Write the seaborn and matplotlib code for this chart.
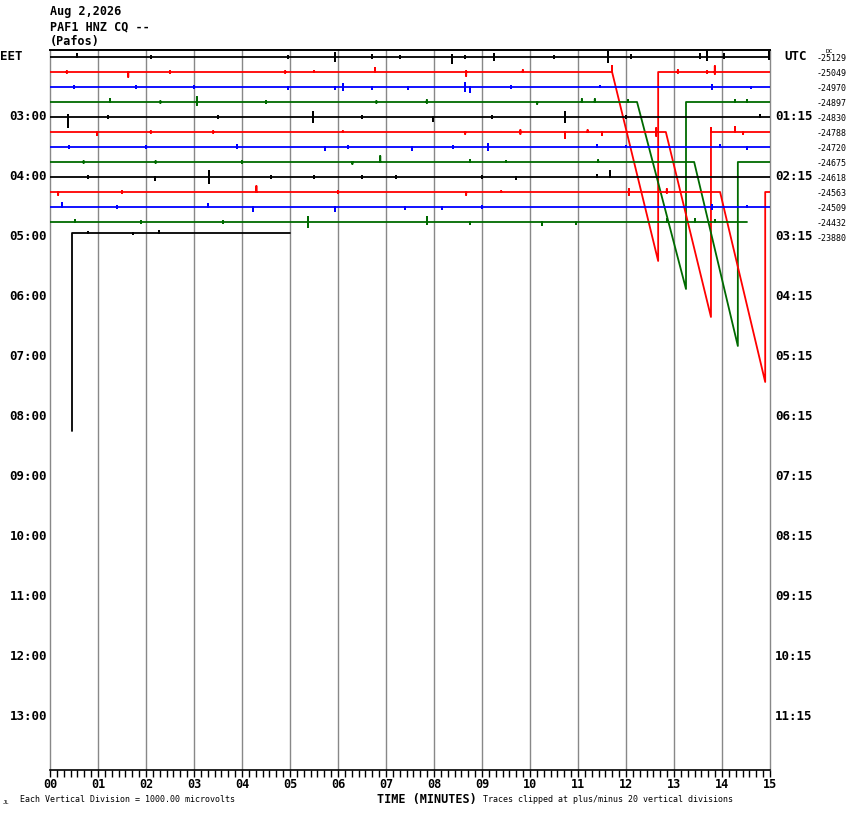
import numpy as np
import matplotlib
matplotlib.use("Agg")
import matplotlib.pyplot as plt
import seaborn as sns

# Helicorder data: 15-minute rows, offsets in divisions-ish px (up = positive)
title_lines = ["Aug 2,2026", "PAF1 HNZ CQ --", "(Pafos)"]
left_hours = ["03:00", "04:00", "05:00", "06:00", "07:00", "08:00", "09:00",
              "10:00", "11:00", "12:00", "13:00"]
right_hours = ["01:15", "02:15", "03:15", "04:15", "05:15", "06:15", "07:15",
               "08:15", "09:15", "10:15", "11:15"]
dc_values = ["-25129", "-25049", "-24970", "-24897", "-24830", "-24788", "-24720",
             "-24675", "-24618", "-24563", "-24509", "-24432", "-23880"]
minute_labels = ["%02d" % m for m in range(16)]
trace_colors = ["black", "red", "blue", "#006a00"]

# drift path of each row: (minute, offset)
shapes = [
    [(0, 0), (15, 0)],
    [(0, 0), (11.71, 0), (12.67, -189), (12.67, 0), (15, 0)],
    [(0, 0), (15, 0)],
    [(0, 0), (12.23, 0), (13.25, -187), (13.25, 0), (15, 0)],
    [(0, 0), (15, 0)],
    [(0, 0), (12.83, 0), (13.77, -185), (13.77, 4), (13.77, 0), (15, 0)],
    [(0, 0), (15, 0)],
    [(0, 0), (13.42, 0), (14.33, -184), (14.33, 0), (15, 0)],
    [(0, 0), (15, 0)],
    [(0, 0), (13.96, 0), (14.90, -190), (14.90, 0), (15, 0)],
    [(0, 0), (15, 0)],
    [(0, 0), (14.52, 0)],
    [(0.46, -194), (0.46, -186), (0.46, 4), (5.0, 4)],
]

# spikes of each row: (minute, up, down)
spikes = [
    [(0.56, 3, 0), (2.1, 1, 1), (4.96, 1, 1), (5.94, 4, 4), (6.7, 2, 1), (7.3, 1, 1),
     (8.37, 2, 6), (8.65, 1, 1), (9.25, 3, 3), (10.5, 1, 1), (11.63, 5, 5), (12.1, 2, 1),
     (13.54, 3, 1), (13.69, 7, 3), (14.04, 3, 1), (14.98, 5, 2)],
    [(0.35, 1, 1), (1.63, 0, 5), (2.5, 1, 1), (4.9, 1, 1), (5.5, 1, 0), (6.77, 4, 0),
     (8.67, 1, 4), (9.85, 2, 0), (11.71, 6, 0), (13.08, 2, 1), (13.69, 1, 1), (13.85, 6, 2)],
    [(0.5, 1, 1), (1.8, 1, 1), (3.0, 1, 1), (4.96, 0, 2), (5.94, 0, 2), (6.1, 3, 3),
     (6.7, 0, 2), (7.46, 0, 2), (8.65, 4, 4), (8.75, 0, 5), (9.6, 1, 1), (11.46, 1, 0),
     (13.8, 2, 2), (14.6, 0, 1)],
    [(1.25, 3, 0), (2.3, 1, 1), (3.06, 5, 3), (4.5, 1, 1), (6.8, 1, 1), (7.85, 2, 1),
     (10.15, 0, 2), (11.08, 3, 0), (11.35, 3, 0), (12.04, 2, 0), (14.27, 2, 0), (14.52, 2, 0)],
    [(0.38, 2, 10), (1.2, 1, 1), (3.5, 1, 1), (5.48, 5, 5), (6.5, 1, 1), (7.98, 0, 4),
     (9.2, 1, 1), (10.73, 5, 5), (12.0, 1, 1), (14.8, 2, 0)],
    [(0.98, 0, 3), (2.1, 1, 1), (3.4, 1, 1), (6.1, 1, 0), (8.65, 0, 2), (9.8, 2, 2),
     (10.73, 0, 6), (11.2, 2, 0), (11.5, 0, 3), (12.63, 4, 4), (14.27, 5, 0), (14.44, 0, 2)],
    [(0.4, 1, 1), (2.0, 1, 1), (3.9, 2, 1), (5.73, 0, 3), (6.2, 1, 1), (7.54, 0, 3),
     (8.4, 1, 1), (9.13, 3, 3), (11.4, 2, 0), (12.0, 1, 0), (13.95, 2, 0), (14.53, 0, 2)],
    [(0.7, 1, 1), (2.2, 1, 1), (4.0, 1, 1), (6.3, 0, 2), (6.88, 6, 0), (8.75, 2, 0),
     (9.5, 1, 0), (11.42, 2, 0)],
    [(0.8, 1, 1), (2.19, 0, 3), (3.31, 6, 6), (4.6, 1, 1), (5.5, 1, 1), (6.5, 1, 1),
     (7.2, 1, 1), (9.0, 1, 1), (9.7, 0, 2), (11.4, 2, 0), (11.67, 6, 0)],
    [(0.17, 0, 3), (1.5, 1, 1), (4.3, 6, 0), (6.0, 1, 1), (8.67, 0, 3), (9.4, 1, 0),
     (12.06, 3, 3), (12.85, 3, 1)],
    [(0.25, 4, 0), (1.4, 1, 1), (3.29, 3, 0), (4.23, 0, 4), (5.94, 0, 4), (7.4, 0, 2),
     (8.17, 0, 2), (9.0, 1, 1), (13.79, 2, 2), (14.52, 1, 0)],
    [(0.52, 2, 0), (1.9, 1, 1), (3.6, 1, 1), (5.38, 5, 5), (7.85, 5, 2), (8.75, 0, 2),
     (10.25, 0, 3), (10.96, 0, 2), (12.85, 3, 0), (13.44, 3, 0), (13.85, 2, 0)],
    [(0.8, 1, 0), (1.73, 0, 1), (2.27, 2, 0)],
]


def build_trace(shape, row_spikes):
    xs, ys = [], []
    pts = sorted(row_spikes)
    for (t0, v0), (t1, v1) in zip(shape[:-1], shape[1:]):
        xs.append(t0)
        ys.append(v0)
        if t1 <= t0:
            continue
        for t, up, down in pts:
            if t0 <= t < t1:
                base = v0 + (v1 - v0) * (t - t0) / (t1 - t0)
                xs += [t, t, t, t]
                ys += [base, base + up, base - down, base]
    xs.append(shape[-1][0])
    ys.append(shape[-1][1])
    return np.array(xs), np.array(ys)


sns.set_style("white")
plt.rcParams['font.family'] = ['DejaVu Sans Mono', 'DejaVu Sans']
plt.rcParams['text.color'] = 'black'
plt.rcParams['xtick.color'] = 'black'
plt.rcParams['xtick.labelcolor'] = 'black'

fig = plt.figure(figsize=(8.5, 8.14), dpi=100)
ax = fig.add_axes([50 / 850, 44 / 814, 720 / 850, 720 / 814])

# minute grid
for m in range(16):
    ax.axvline(m, color="#888888", lw=1.0, zorder=1, clip_on=False)

for i, (shape, row_spikes) in enumerate(zip(shapes, spikes)):
    tx, ty = build_trace(shape, row_spikes)
    sns.lineplot(x=tx, y=15 * i - ty, sort=False, estimator=None,
                 color=trace_colors[i % 4], lw=1.3, ax=ax, zorder=3)

ax.set_xlim(0, 15)
ax.set_ylim(713, -7)
ax.set_yticks([])
for side in ["left", "right"]:
    ax.spines[side].set_visible(False)
ax.spines["top"].set_color("black")
ax.spines["top"].set_linewidth(1.4)
ax.spines["top"].set_zorder(5)
ax.spines["bottom"].set_color("black")
ax.spines["bottom"].set_linewidth(1.2)
ax.spines["bottom"].set_zorder(5)

ax.set_xticks(range(16))
ax.set_xticklabels(minute_labels, fontsize=8.5, fontweight="bold")
ax.set_xticks(np.arange(0, 15, 1 / 7), minor=True)
ax.tick_params(axis="x", which="both", direction="out", length=5, width=1,
               color="black", labelcolor="black", pad=1, bottom=True)
ax.set_xlabel("")

# left / right labels
ax.text(-1.04, 0, "EET", ha="left", va="center", fontsize=9, fontweight="bold")
ax.text(15.3, 0, "UTC", ha="left", va="center", fontsize=9, fontweight="bold")
for k, (lh, rh) in enumerate(zip(left_hours, right_hours)):
    y = 60 * (k + 1)
    ax.text(-0.06, y, lh, ha="right", va="center", fontsize=9, fontweight="bold")
    ax.text(15.1, y, rh, ha="left", va="center", fontsize=9, fontweight="bold")
for i, dc in enumerate(dc_values):
    ax.text(15.98, 15 * i + 1.5, dc, ha="left", va="center", fontsize=6)
ax.text(16.15, -5.5, "DC", ha="left", va="center", fontsize=4.5)

# header and footer
for j, line in enumerate(title_lines):
    fig.text(50 / 850, 1 - (12 + 15 * j) / 814, line, ha="left", va="center",
             fontsize=8.5, fontweight="bold")
fig.text(427 / 850, 1 - 799 / 814, "TIME (MINUTES)", ha="center", va="center",
         fontsize=8.5, fontweight="bold")
fig.text(20 / 850, 1 - 800 / 814, "Each Vertical Division = 1000.00 microvolts",
         ha="left", va="center", fontsize=6)
fig.text(483 / 850, 1 - 800 / 814, "Traces clipped at plus/minus 20 vertical divisions",
         ha="left", va="center", fontsize=6)
fig.text(3 / 850, 1 - 802 / 814, "JL", ha="left", va="center", fontsize=4)

fig.savefig("out.png", dpi=100)
